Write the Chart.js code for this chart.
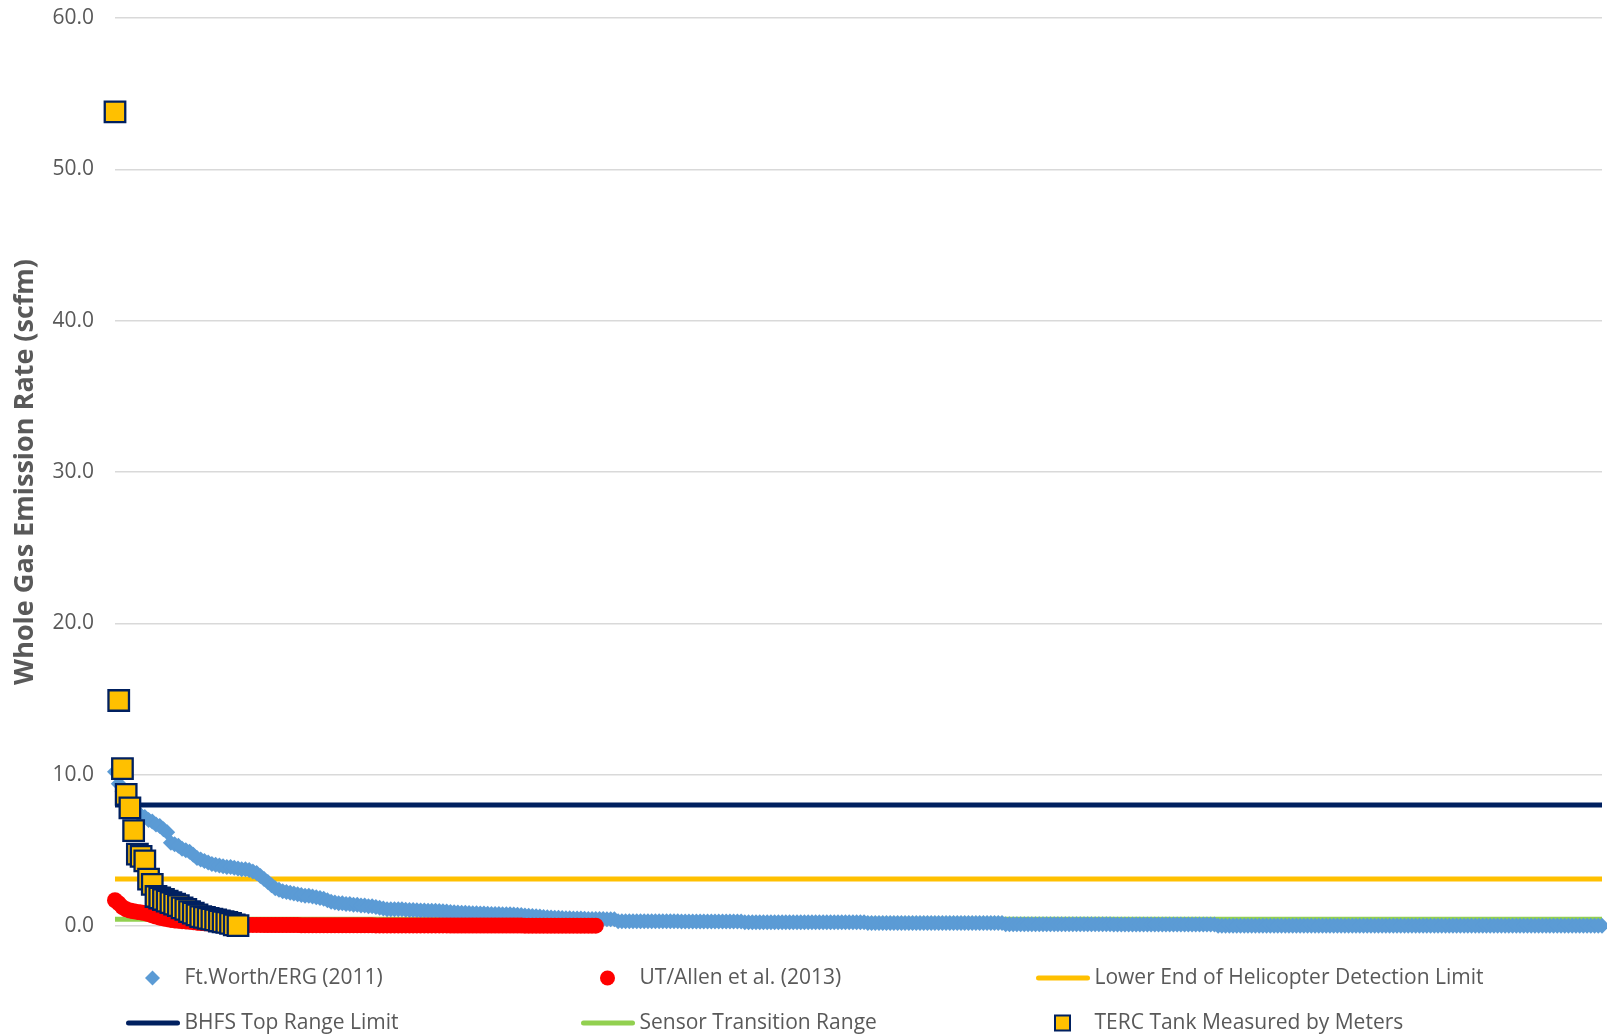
<!DOCTYPE html>
<html>
<head>
<meta charset="utf-8">
<script src="https://cdn.jsdelivr.net/npm/chart.js@4/dist/chart.umd.min.js"></script>
<style>
  html, body { margin: 0; padding: 0; background: #ffffff; }
  #wrap { width: 1607px; height: 1034px; position: relative; }
</style>
</head>
<body>
<div id="wrap"><canvas id="chart" width="1607" height="1034"></canvas></div>
<script>
// Whole gas emission rate per measured tank, sorted high to low (scfm)
const ftWorthErg = [
  10.2, 9.4, 8.9, 8.4, 8.0, 7.7, 7.5, 7.3, 7.2, 7.0, 6.9, 6.7, 6.6, 6.4, 6.2,
  5.5, 5.4, 5.3, 5.1, 5.0, 4.9, 4.7, 4.5, 4.4, 4.3, 4.2, 4.1, 4.05, 4.0, 3.95, 3.9, 3.9, 3.85,
  3.8, 3.75, 3.75, 3.7, 3.6, 3.5, 3.3, 3.1, 2.9, 2.7, 2.5, 2.4, 2.3, 2.25, 2.2, 2.15, 2.1, 2.05,
  2.0, 2.0, 1.95, 1.9, 1.85, 1.8, 1.7, 1.6, 1.55, 1.5, 1.5, 1.45, 1.45, 1.4, 1.4, 1.35, 1.35, 1.3, 1.3, 1.25, 1.2, 1.15,
  1.1, 1.1, 1.1, 1.1, 1.1, 1.08, 1.06, 1.05, 1.04, 1.03, 1.02, 1.01, 1.0, 1.0, 0.99, 0.97, 0.95, 0.93, 0.91, 0.9,
  0.88, 0.87, 0.86, 0.85, 0.84, 0.83, 0.82, 0.81, 0.8, 0.8, 0.79, 0.78, 0.78, 0.77, 0.76, 0.74, 0.72, 0.7,
  0.68, 0.66, 0.64, 0.62, 0.6, 0.58, 0.56, 0.55, 0.54, 0.53, 0.52, 0.51, 0.5, 0.5, 0.49, 0.48, 0.47, 0.47, 0.46, 0.46,
  0.46, 0.45, 0.45, 0.44,
  0.32, 0.32, 0.32, 0.32, 0.32, 0.32, 0.32, 0.32, 0.32, 0.32,
  0.32, 0.32, 0.32, 0.32, 0.32, 0.32, 0.32,
  0.3, 0.3, 0.3, 0.3, 0.3, 0.3, 0.3, 0.3, 0.3, 0.3,
  0.3, 0.3, 0.3, 0.3, 0.3, 0.3, 0.3,
  0.25, 0.25, 0.25, 0.25, 0.25, 0.25, 0.25, 0.25, 0.25, 0.25,
  0.25, 0.25, 0.25, 0.25, 0.25, 0.25,
  0.24, 0.24, 0.24, 0.24, 0.24, 0.24, 0.24, 0.24, 0.24, 0.24,
  0.24, 0.24, 0.24, 0.24, 0.24, 0.24, 0.24,
  0.2, 0.2, 0.2, 0.2, 0.2, 0.2, 0.2, 0.2, 0.2, 0.2,
  0.2, 0.2, 0.2, 0.2, 0.2, 0.2, 0.2, 0.2, 0.2,
  0.19, 0.19, 0.19, 0.19, 0.19, 0.19, 0.19, 0.19, 0.19, 0.19,
  0.19, 0.19, 0.19, 0.19, 0.19, 0.19, 0.19, 0.19,
  0.11, 0.11, 0.11, 0.11, 0.11, 0.11, 0.11, 0.11, 0.11, 0.11,
  0.11, 0.11, 0.11, 0.11, 0.11, 0.11, 0.11, 0.11, 0.11, 0.11,
  0.11, 0.11, 0.11, 0.11, 0.11, 0.11, 0.11, 0.11, 0.11,
  0.1, 0.1, 0.1, 0.1, 0.1, 0.1, 0.1, 0.1, 0.1, 0.1,
  0.1, 0.1, 0.1, 0.1, 0.1, 0.1, 0.1, 0.1, 0.1, 0.1,
  0.1, 0.1, 0.1, 0.1, 0.1, 0.1, 0.1, 0.1,
  0.02, 0.02, 0.02, 0.02, 0.02, 0.02, 0.02, 0.02, 0.02, 0.02,
  0.02, 0.02, 0.02, 0.02, 0.02, 0.02, 0.02, 0.02, 0.02, 0.02,
  0.02, 0.02, 0.02, 0.02, 0.02, 0.02, 0.02, 0.02, 0.02, 0.02,
  0.02, 0.02, 0.02, 0.02, 0.02, 0.02, 0.02, 0.02, 0.02, 0.02,
  0.02, 0.02, 0.02, 0.02, 0.02, 0.02, 0.02, 0.02, 0.02, 0.02,
  0.02, 0.02,
  0.01, 0.01, 0.01, 0.01, 0.01, 0.01, 0.01, 0.01, 0.01, 0.01,
  0.01, 0.01, 0.01, 0.01, 0.01, 0.01, 0.01, 0.01, 0.01, 0.01,
  0.01, 0.01, 0.01, 0.01, 0.01, 0.01, 0.01, 0.01, 0.01, 0.01,
  0.01, 0.01, 0.01, 0.01, 0.01, 0.01, 0.01, 0.01, 0.01, 0.01,
  0.01, 0.01, 0.01, 0.01, 0.01, 0.01, 0.01, 0.01, 0.01, 0.01,
  0.01, 0.01
];

const utAllen = [
  1.7, 1.5, 1.25, 1.1, 1.02, 0.97, 0.93, 0.9, 0.85, 0.78,
  0.7, 0.62, 0.55, 0.5, 0.45, 0.4, 0.37, 0.34, 0.32, 0.3,
  0.28, 0.25, 0.22, 0.2, 0.18, 0.16, 0.14, 0.12, 0.1, 0.09,
  0.07, 0.07, 0.07, 0.07, 0.07, 0.07, 0.07, 0.07, 0.07, 0.07,
  0.06, 0.06, 0.06, 0.06, 0.06, 0.06, 0.06, 0.06, 0.06, 0.06,
  0.05, 0.05, 0.05, 0.05, 0.05, 0.05, 0.05, 0.05, 0.05, 0.05,
  0.05, 0.05, 0.05, 0.05, 0.05, 0.05, 0.05, 0.05, 0.05, 0.05,
  0.04, 0.04, 0.04, 0.04, 0.04, 0.04, 0.04, 0.04, 0.04, 0.04,
  0.04, 0.04, 0.04, 0.04, 0.04, 0.04, 0.04, 0.04, 0.04, 0.04,
  0.03, 0.03, 0.03, 0.03, 0.03, 0.03, 0.03, 0.03, 0.03, 0.03,
  0.03, 0.03, 0.03, 0.03, 0.03, 0.03, 0.03, 0.03, 0.03, 0.03,
  0.02, 0.02, 0.02, 0.02, 0.02, 0.02, 0.02, 0.02, 0.02, 0.02,
  0.02, 0.02, 0.02, 0.02, 0.02, 0.02, 0.02, 0.02, 0.02, 0.02
];

const tercTank = [
  53.8, 14.9, 10.4, 8.7, 7.8, 6.3, 4.75, 4.6, 4.3, 3.1,
  2.75, 1.95, 1.85, 1.75, 1.65, 1.55, 1.45, 1.35, 1.2, 1.1,
  0.95, 0.85, 0.73, 0.62, 0.57, 0.5, 0.46, 0.4, 0.33, 0.28,
  0.24, 0.17, 0.08, 0.02
];

// Reference levels (scfm)
const helicopterLimit = 3.1;
const bhfsTopLimit = 8.0;
const sensorTransition = 0.45;

const yTicks = [0, 10, 20, 30, 40, 50, 60];

const seriesLabels = [
  'Ft.Worth/ERG (2011)',
  'UT/Allen et al. (2013)',
  'Lower End of Helicopter Detection Limit',
  'BHFS Top Range Limit',
  'Sensor Transition Range',
  'TERC Tank Measured by Meters'
];

const lastIndex = ftWorthErg.length - 1;
const asPoints = arr => arr.map((v, i) => ({ x: i, y: v }));
const level = v => [{ x: 0, y: v }, { x: lastIndex, y: v }];

const TEXT = '#595959';

// Legend laid out as a 3-column grid under the plot
function drawMarker(ctx, style, x, y, r, fill, stroke, bw) {
  ctx.beginPath();
  if (style === 'rectRot') {
    ctx.moveTo(x - r, y); ctx.lineTo(x, y - r); ctx.lineTo(x + r, y); ctx.lineTo(x, y + r);
    ctx.closePath();
  } else if (style === 'circle') {
    ctx.arc(x, y, r, 0, Math.PI * 2);
  } else {
    ctx.rect(x - r, y - r, 2 * r, 2 * r);
  }
  ctx.fillStyle = fill;
  ctx.fill();
  if (bw > 0) { ctx.lineWidth = bw; ctx.strokeStyle = stroke; ctx.stroke(); }
}

const gridLegend = {
  id: 'gridLegend',
  afterDraw(chart, args, opts) {
    const ctx = chart.ctx;
    ctx.save();
    ctx.font = opts.font;
    ctx.textBaseline = 'middle';
    ctx.textAlign = 'left';
    chart.data.datasets.forEach((ds, k) => {
      const tx = opts.x0 + (k % 3) * opts.dx;
      const ty = opts.y0 + Math.floor(k / 3) * opts.dy;
      if (ds.showLine === false) {
        drawMarker(ctx, ds.pointStyle, tx - 32, ty, opts.markerSize,
          ds.pointBackgroundColor, ds.pointBorderColor, ds.pointBorderWidth ? 2 : 0);
      } else {
        ctx.beginPath();
        ctx.lineCap = 'round';
        ctx.lineWidth = 5;
        ctx.strokeStyle = ds.borderColor;
        ctx.moveTo(tx - 56, ty);
        ctx.lineTo(tx - 7, ty);
        ctx.stroke();
      }
      ctx.fillStyle = TEXT;
      ctx.fillText(ds.label, tx, ty);
    });
    ctx.restore();
  }
};

const markerSeries = (label, data, style, radius, fill, border, bw, order) => ({
  label, data, showLine: false, pointStyle: style, pointRadius: radius,
  pointHoverRadius: radius, pointBackgroundColor: fill, pointBorderColor: border,
  pointBorderWidth: bw, backgroundColor: fill, borderColor: border, order, clip: false
});

const levelSeries = (label, value, color, order) => ({
  label, data: level(value), borderColor: color, backgroundColor: color,
  borderWidth: 5, pointRadius: 0, pointHoverRadius: 0, tension: 0, order, clip: false
});

new Chart(document.getElementById('chart'), {
  type: 'line',
  data: {
    datasets: [
      markerSeries(seriesLabels[0], asPoints(ftWorthErg), 'rectRot', 8, '#5b9bd5', '#5b9bd5', 0, 2),
      markerSeries(seriesLabels[1], asPoints(utAllen), 'circle', 8, '#ff0000', '#ff0000', 0, 1),
      levelSeries(seriesLabels[2], helicopterLimit, '#ffc000', 5),
      levelSeries(seriesLabels[3], bhfsTopLimit, '#002060', 3),
      levelSeries(seriesLabels[4], sensorTransition, '#92d050', 4),
      markerSeries(seriesLabels[5], asPoints(tercTank), 'rect', 14.5, '#ffc000', '#002060', 2.3, 0)
    ]
  },
  options: {
    responsive: false,
    devicePixelRatio: 1,
    animation: false,
    events: [],
    layout: { autoPadding: false, padding: { left: 0, right: 5, top: 18, bottom: 108 } },
    scales: {
      x: {
        type: 'linear',
        min: 0,
        max: lastIndex,
        display: false
      },
      y: {
        min: 0,
        max: 60,
        afterBuildTicks: s => { s.ticks = yTicks.map(v => ({ value: v })); },
        afterFit: s => { s.width = 115; s.paddingTop = 0; s.paddingBottom = 0; },
        ticks: {
          callback: v => Number(v).toFixed(1),
          font: { family: '"Open Sans"', size: 21 },
          color: TEXT,
          padding: 21
        },
        grid: { color: '#d9d9d9', lineWidth: 1.5, drawTicks: false },
        border: { display: false },
        title: {
          display: true,
          text: 'Whole Gas Emission Rate (scfm)',
          font: { family: '"Open Sans"', size: 27, weight: 'bold' },
          color: TEXT,
          padding: { top: 9, bottom: 0 }
        }
      }
    },
    plugins: {
      legend: { display: false },
      tooltip: { enabled: false },
      gridLegend: { x0: 184.5, dx: 455, y0: 978, dy: 45, markerSize: 7.5, font: '21px "Open Sans"' }
    }
  },
  plugins: [gridLegend]
});
</script>
</body>
</html>
